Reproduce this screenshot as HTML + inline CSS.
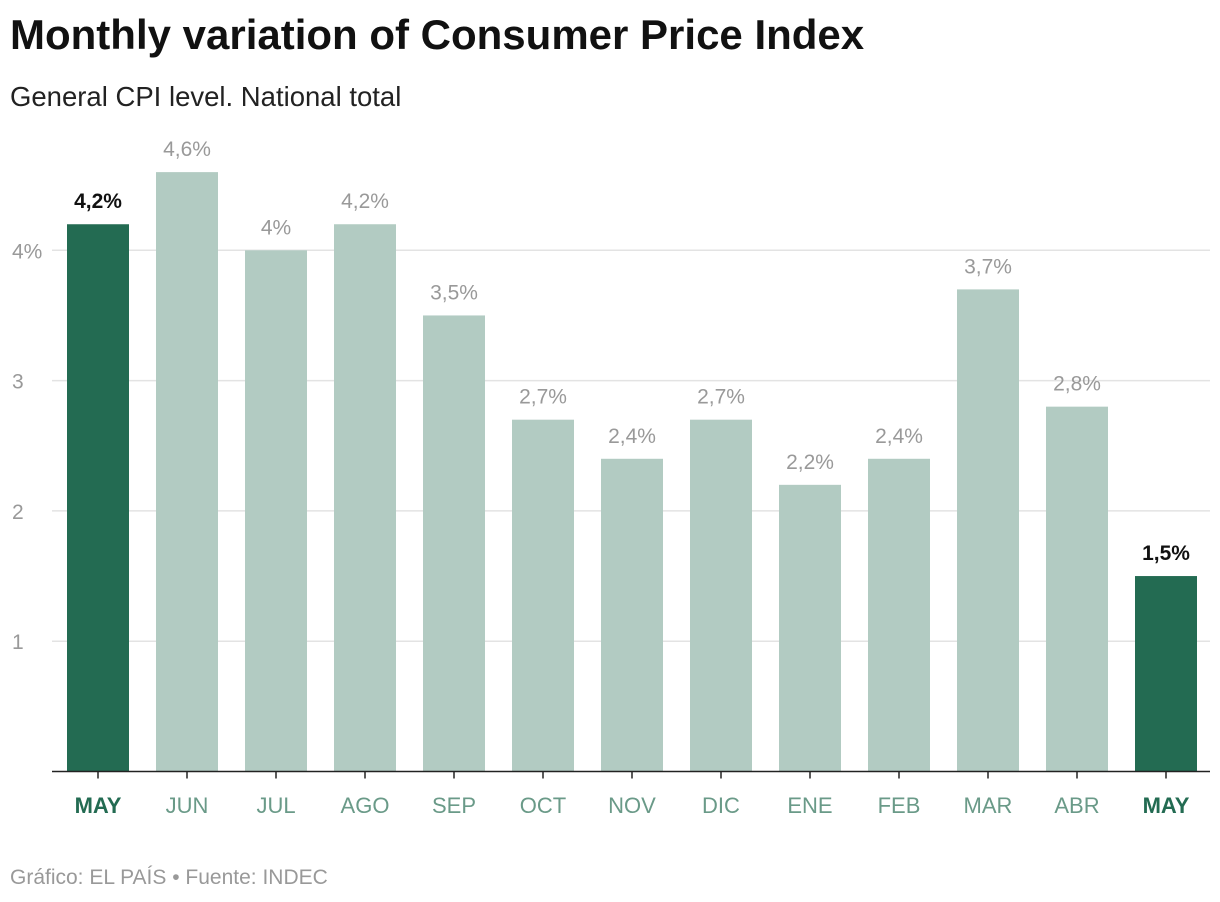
<!DOCTYPE html>
<html><head><meta charset="utf-8">
<style>
body{margin:0;background:#fff;font-family:"Liberation Sans",sans-serif;}
#wrap{position:relative;width:1220px;height:902px;overflow:hidden}
h1{position:absolute;left:10px;top:11px;margin:0;font-size:42px;font-weight:bold;color:#111;letter-spacing:0px}
.sub{position:absolute;left:10px;top:81px;font-size:27.5px;color:#222}
.foot{position:absolute;left:10px;top:866px;font-size:21px;color:#999}
</style></head><body>
<div id="wrap">
<h1>Monthly variation of Consumer Price Index</h1>
<div class="sub">General CPI level. National total</div>
<svg id="chart" width="1220" height="902" style="position:absolute;left:0;top:0"></svg>
<div class="foot">Gráfico: EL PAÍS • Fuente: INDEC</div>
</div>
<script>
const categories=["MAY","JUN","JUL","AGO","SEP","OCT","NOV","DIC","ENE","FEB","MAR","ABR","MAY"];
const values=[4.2,4.6,4.0,4.2,3.5,2.7,2.4,2.7,2.2,2.4,3.7,2.8,1.5];
const valueLabels=["4,2%","4,6%","4%","4,2%","3,5%","2,7%","2,4%","2,7%","2,2%","2,4%","3,7%","2,8%","1,5%"];
const highlighted=[true,false,false,false,false,false,false,false,false,false,false,false,true];
const yTicks=[1,2,3,4];
const yTickLabels=["1","2","3","4%"];

const svg=document.getElementById('chart');
const NS='http://www.w3.org/2000/svg';
const y0=771.5,unit=130.3,left=52,right=1210,firstX=67,step=89,bw=62;
const y=v=>y0-v*unit;
const x=i=>firstX+i*step;
function mk(t,a){const e=document.createElementNS(NS,t);for(const k in a)e.setAttribute(k,a[k]);svg.appendChild(e);return e;}
yTicks.forEach((t,i)=>{
  const g=mk('line',{x1:left,x2:right,y1:y(t),y2:y(t),stroke:'#e3e3e3','stroke-width':1.5});
  
  
  const l=mk('text',{x:12,y:y(t)+8,'font-size':21,fill:'#999'});
  l.textContent=yTickLabels[i];
  
  
});
values.forEach((v,i)=>{
  const hl=highlighted[i];
  const r=mk('rect',{x:x(i),y:y(v),width:bw,height:y0-y(v),fill:hl?'#236b52':'#b2cbc2'});
  
  
  const t=mk('text',{x:x(i)+bw/2,y:y(v)-16,'text-anchor':'middle','font-size':21,fill:hl?'#111':'#999','font-weight':hl?'bold':'normal'});
  t.textContent=valueLabels[i];
  
  
  const tk=mk('line',{x1:x(i)+bw/2,x2:x(i)+bw/2,y1:y0,y2:y0+7,stroke:'#222','stroke-width':1.5});
  
  
  const c=mk('text',{x:x(i)+bw/2,y:813,'text-anchor':'middle','font-size':22,fill:hl?'#236b52':'#6a9a88','font-weight':hl?'bold':'normal'});
  c.textContent=categories[i];
  
  
});
const ax=mk('line',{x1:left,x2:right,y1:y0,y2:y0,stroke:'#222','stroke-width':1.5});


</script>
</body></html>
